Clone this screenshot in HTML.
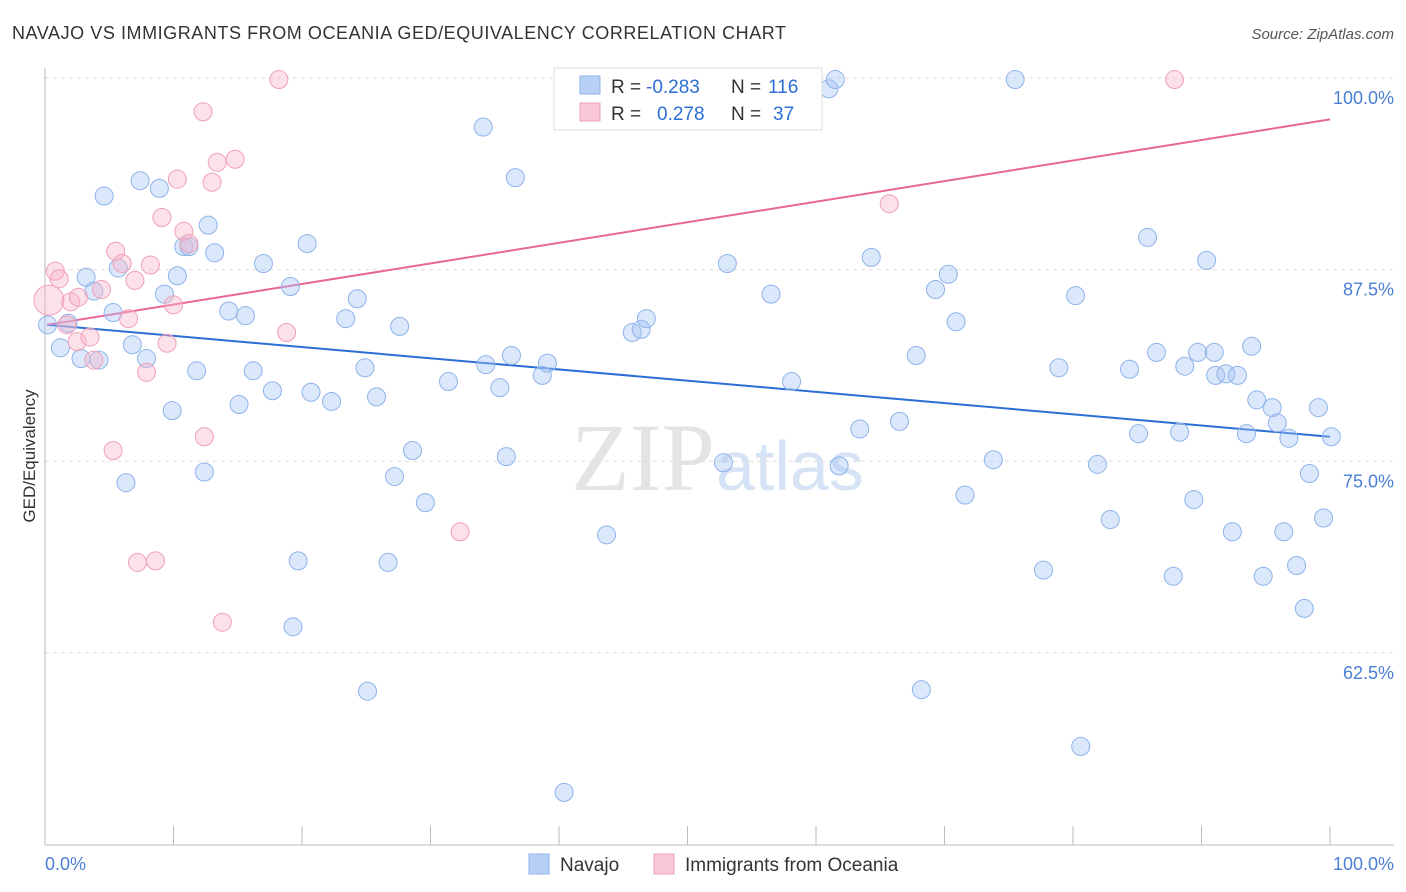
<!DOCTYPE html>
<html><head><meta charset="utf-8"><style>
body{margin:0;background:#fff;font-family:"Liberation Sans",sans-serif;}
svg{display:block}
</style></head><body>
<svg id="chart" width="1406" height="892">
<text x="12" y="39" font-size="18" fill="#333" textLength="774">NAVAJO VS IMMIGRANTS FROM OCEANIA GED/EQUIVALENCY CORRELATION CHART</text>
<text x="1394" y="39" font-size="15" fill="#555" font-style="italic" text-anchor="end">Source: ZipAtlas.com</text>
<text x="715" y="490" font-size="96" fill="#e4e4e4" text-anchor="end" font-family="Liberation Serif,serif">ZIP</text>
<text x="716" y="490" font-size="70" fill="#d6e3f5">atlas</text>
<text transform="translate(35,456) rotate(-90)" font-size="17" fill="#333" text-anchor="middle">GED/Equivalency</text>
<g id="grid"></g><g id="axes"></g><g id="trend"></g><g id="pts"></g>
<g>
<rect x="554" y="68" width="268" height="62" fill="#fff" stroke="#ddd"/>
<rect x="580" y="76" width="20" height="18" fill="#b8d0f4" stroke="#8fb3ea"/>
<rect x="580" y="103" width="20" height="18" fill="#f9c8d6" stroke="#f0a0b8"/>
<text x="611" y="93" font-size="19" fill="#333">R =</text>
<text x="646" y="93" font-size="19" fill="#2b6fd6">-0.283</text>
<text x="731" y="93" font-size="19" fill="#333">N =</text>
<text x="768" y="93" font-size="19" fill="#2b6fd6">116</text>
<text x="611" y="120" font-size="19" fill="#333">R =</text>
<text x="657" y="120" font-size="19" fill="#2b6fd6">0.278</text>
<text x="731" y="120" font-size="19" fill="#333">N =</text>
<text x="773" y="120" font-size="19" fill="#2b6fd6">37</text>
</g>
<g>
<rect x="529" y="854" width="20" height="20" fill="#b8d0f4" stroke="#8fb3ea"/>
<text x="560" y="871" font-size="19" fill="#333">Navajo</text>
<rect x="654" y="854" width="20" height="20" fill="#f9c8d6" stroke="#f0a0b8"/>
<text x="685" y="871" font-size="19" fill="#333">Immigrants from Oceania</text>
</g>
<text x="45" y="870" font-size="18" fill="#4a7fd4">0.0%</text>
<text x="1394" y="870" font-size="18" fill="#4a7fd4" text-anchor="end">100.0%</text>
</svg>
<script>
const yTicks=[100,87.5,75,62.5];
const yTickLabels=["100.0%","87.5%","75.0%","62.5%"];
const navX=[0.2,1.2,3.2,4.6,7.4,8.9,12.7,10.8,11.2,13.2,10.3,5.7,3.8,5.3,9.3,1.8,2.8,4.2,6.8,7.9,11.8,9.9,15.1,14.3,15.6,17.0,19.1,20.4,16.2,17.7,20.7,22.3,23.4,24.3,24.9,25.8,27.6,12.4,6.3,19.7,19.3,25.1,26.7,27.2,28.6,29.6,31.4,34.1,36.6,34.3,35.4,35.9,36.3,38.7,39.1,40.4,43.7,45.7,46.4,46.8,52.4,53.1,52.8,56.5,58.1,61.0,61.5,61.8,63.4,64.3,66.5,67.8,68.2,69.3,70.3,70.9,71.6,73.8,75.5,77.7,78.9,80.2,80.6,81.9,82.9,84.4,85.1,85.8,86.5,87.8,88.3,88.7,89.4,89.7,90.4,91.0,91.1,91.9,92.4,92.8,93.5,93.9,94.3,94.8,95.5,95.9,96.4,96.8,97.4,98.0,98.4,99.1,99.5,100.1];
const navY=[83.9,82.4,87.0,92.3,93.3,92.8,90.4,89.0,89.0,88.6,87.1,87.6,86.1,84.7,85.9,84.0,81.7,81.6,82.6,81.7,80.9,78.3,78.7,84.8,84.5,87.9,86.4,89.2,80.9,79.6,79.5,78.9,84.3,85.6,81.1,79.2,83.8,74.3,73.6,68.5,64.2,60.0,68.4,74.0,75.7,72.3,80.2,96.8,93.5,81.3,79.8,75.3,81.9,80.6,81.4,53.4,70.2,83.4,83.6,84.3,99.9,87.9,74.9,85.9,80.2,99.3,99.9,74.7,77.1,88.3,77.6,81.9,60.1,86.2,87.2,84.1,72.8,75.1,99.9,67.9,81.1,85.8,56.4,74.8,71.2,81.0,76.8,89.6,82.1,67.5,76.9,81.2,72.5,82.1,88.1,82.1,80.6,80.7,70.4,80.6,76.8,82.5,79.0,67.5,78.5,77.5,70.4,76.5,68.2,65.4,74.2,78.5,71.3,76.6];
const oceX=[0.8,1.1,2.0,2.6,1.7,2.5,3.5,3.8,4.4,5.5,6.0,6.5,7.0,8.2,7.9,5.3,7.2,8.6,9.1,9.5,10.0,10.3,10.8,11.2,12.3,13.0,13.4,14.8,12.4,13.8,18.2,18.8,32.3,65.7,87.9,0.3];
const oceY=[87.4,86.9,85.4,85.7,83.9,82.8,83.1,81.6,86.2,88.7,87.9,84.3,86.8,87.8,80.8,75.7,68.4,68.5,90.9,82.7,85.2,93.4,90.0,89.2,97.8,93.2,94.5,94.7,76.6,64.5,99.9,83.4,70.4,91.8,99.9,85.5];
const navTrend=[83.9,76.6];
const oceTrend=[83.9,97.3];
const NS="http://www.w3.org/2000/svg";
const X0=45,X1=1330,Y100=78,PXPER=15.33;
const sx=v=>X0+(X1-X0)*v/100;
const sy=v=>Y100+(100-v)*PXPER;
function mk(t,a,p){const e=document.createElementNS(NS,t);for(const k in a)e.setAttribute(k,a[k]);p.appendChild(e);return e;}
const grid=document.getElementById('grid'),axes=document.getElementById('axes');
yTicks.forEach((v,i)=>{
 const l=mk('line',{x1:X0,x2:1394,y1:sy(v),y2:sy(v),stroke:'#ddd','stroke-dasharray':'4,4'},grid);
 
 
 const t=mk('text',{x:1394,y:sy(v)+26,'font-size':18,fill:'#4a7fd4','text-anchor':'end'},axes);
 t.textContent=yTickLabels[i];
 
 
});
const ax=mk('line',{x1:X0,x2:X0,y1:68,y2:845,stroke:'#bbb'},axes);


const bx=mk('line',{x1:X0,x2:1394,y1:845,y2:845,stroke:'#bbb'},axes);


for(let i=0;i<=10;i++){
 const tk=mk('line',{x1:sx(i*10),x2:sx(i*10),y1:826,y2:845,stroke:'#bbb'},axes);
 
 
}
const pts=document.getElementById('pts');
navX.forEach((x,i)=>{
 const c=mk('circle',{cx:sx(x),cy:sy(navY[i]),r:9,fill:'rgba(164,194,244,0.4)',stroke:'#8fb3ea','stroke-width':1},pts);
 
 
});
oceX.forEach((x,i)=>{
 const big=i===oceX.length-1;
 const c=mk('circle',{cx:sx(x),cy:sy(oceY[i]),r:big?15:9,fill:'rgba(248,180,200,0.4)',stroke:'#f0a0b8','stroke-width':1},pts);
 
 
});
const tr=document.getElementById('trend');
const l1=mk('line',{x1:sx(0)+2,y1:sy(navTrend[0]),x2:sx(100),y2:sy(navTrend[1]),stroke:'#2b6fd6','stroke-width':2},tr);


const l2=mk('line',{x1:sx(0)+2,y1:sy(oceTrend[0]),x2:sx(100),y2:sy(oceTrend[1]),stroke:'#e8669a','stroke-width':2},tr);


</script>
</body></html>
